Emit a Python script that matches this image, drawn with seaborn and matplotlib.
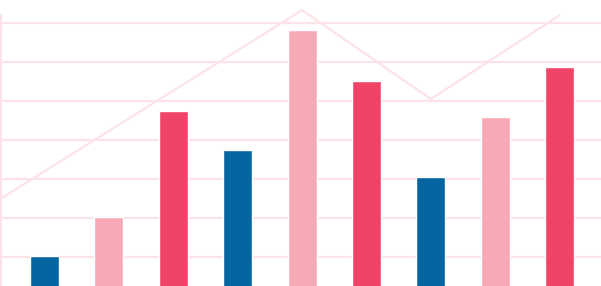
import numpy as np
import pandas as pd
import matplotlib
matplotlib.use("Agg")
import matplotlib.pyplot as plt
import seaborn as sns

# bar data (grid step = 1)
labels = ["a1", "b1", "c1", "a2", "b2", "c2", "a3", "b3", "c3"]
values = [1.02, 2.02, 4.74, 3.74, 6.81, 5.51, 3.05, 4.58, 5.87]
colors = ["#0465a1", "#f7aab5", "#ef4368"] * 3

# line data (x in bar-index units)
line_x = [-0.675, 4, 6, 8]
line_y = [2.5, 7.33, 5.05, 7.2]

grid_col = "#fce3e8"

sns.set_style("white")
fig = plt.figure(figsize=(6.01, 2.86), dpi=100)
ax = fig.add_axes([1 / 601, 0, 600 / 601, 271 / 286])

df = pd.DataFrame({"label": labels, "value": values})
sns.barplot(data=df, x="label", y="value", hue="label", palette=colors,
            legend=False, width=0.45, saturation=1, ax=ax, zorder=3)

ax.plot(line_x, line_y, color=grid_col, lw=1.6, zorder=4, clip_on=False)

ax.set_xlim(-0.675, 8.642)
ax.set_ylim(0.256, 7.205)
ax.set_yticks(range(1, 8))
ax.yaxis.grid(True, color=grid_col, lw=1.6)
ax.set_axisbelow(True)
ax.tick_params(left=False, bottom=False, labelleft=False, labelbottom=False)
for s in ["top", "right", "bottom"]:
    ax.spines[s].set_visible(False)
ax.spines["left"].set_color(grid_col)
ax.spines["left"].set_linewidth(1.6)
ax.set_xlabel("")
ax.set_ylabel("")

fig.savefig("out.png", dpi=100)
